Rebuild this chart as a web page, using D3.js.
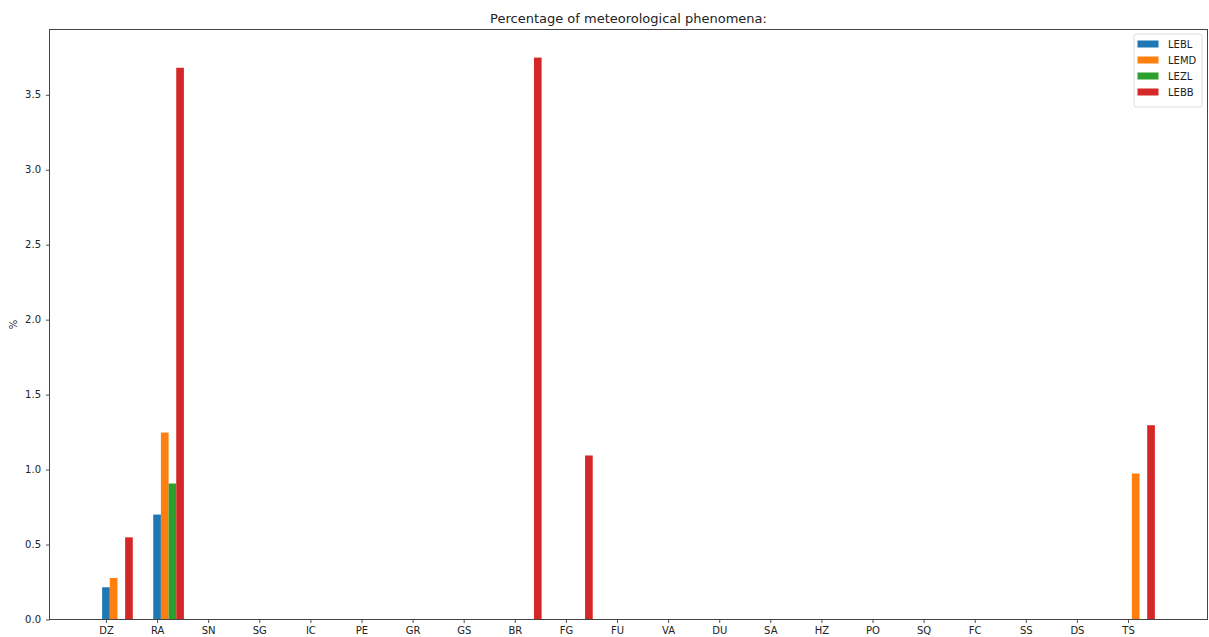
<!DOCTYPE html>
<html>
<head>
<meta charset="utf-8">
<script src="https://cdn.jsdelivr.net/npm/d3@7"></script>
<style>
  html, body { margin: 0; padding: 0; background: #fff; }
  svg { display: block; font-family: "DejaVu Sans", sans-serif; }
</style>
</head>
<body>
<svg id="chart" width="1209" height="637"></svg>
<script>
// Weather phenomenon codes along the x axis
const categories = ["DZ","RA","SN","SG","IC","PE","GR","GS","BR","FG","FU","VA","DU","SA","HZ","PO","SQ","FC","SS","DS","TS"];

// Station series (percentage of observations per phenomenon)
const stations = ["LEBL","LEMD","LEZL","LEBB"];
const lebl = [0.215,0.70,0,0,0,0,0,0,0,0,0,0,0,0,0,0,0,0,0,0,0];
const lemd = [0.277,1.247,0,0,0,0,0,0,0,0,0,0,0,0,0,0,0,0,0,0,0.974];
const lezl = [0,0.907,0,0,0,0,0,0,0,0,0,0,0,0,0,0,0,0,0,0,0];
const lebb = [0.548,3.68,0,0,0,0,0,0,3.748,1.094,0,0,0,0,0,0,0,0,0,0,1.296];
const seriesValues = [lebl, lemd, lezl, lebb];

const yTicks = [0.0,0.5,1.0,1.5,2.0,2.5,3.0,3.5];
const colors = ["#1f77b4","#ff7f0e","#2ca02c","#d62728"];

const svg = d3.select("#chart");
const plotLeft = 49.5, plotRight = 1207.5, plotTop = 29.5, plotBottom = 619.5;

// Bars of width w placed at index + i*w, centred on that position
const w = 0.15;
const xMin = -w / 2, xMax = (categories.length - 1) + (stations.length - 1) * w + w / 2;
const pad = (xMax - xMin) * 0.05;
const x = d3.scaleLinear().domain([xMin - pad, xMax + pad]).range([plotLeft, plotRight]);

const maxVal = d3.max(seriesValues.flat());
const y = d3.scaleLinear().domain([0, maxVal * 1.05]).range([plotBottom, plotTop]);

// Bars
seriesValues.forEach((vals, si) => {
  svg.append("g")
    .selectAll("rect")
    .data(vals.map((v, ci) => ({v, ci})).filter(d => d.v > 0))
    .join("rect")
    .attr("x", d => x(d.ci + si * w - w / 2))
    .attr("width", d => x(d.ci + si * w + w / 2) - x(d.ci + si * w - w / 2))
    .attr("y", d => y(d.v))
    .attr("height", d => y(0) - y(d.v))
    .attr("fill", colors[si]);
});

// Axes
const xAxis = d3.axisBottom(x)
  .tickValues(d3.range(categories.length))
  .tickFormat(i => categories[i])
  .tickSizeOuter(0).tickSize(3.5).tickPadding(4);
const gx = svg.append("g").attr("transform", `translate(0,${plotBottom})`).call(xAxis);
gx.select(".domain").remove();
gx.selectAll("text").attr("font-size", 10).attr("fill", "#222").attr("font-family", "DejaVu Sans");
gx.selectAll("line").attr("stroke", "#222").attr("stroke-width", 0.8);

const yAxis = d3.axisLeft(y)
  .tickValues(yTicks)
  .tickFormat(d3.format(".1f"))
  .tickSizeOuter(0).tickSize(3.5).tickPadding(5);
const gy = svg.append("g").attr("transform", `translate(${plotLeft},0)`).call(yAxis);
gy.select(".domain").remove();
gy.selectAll("text").attr("font-size", 10).attr("fill", "#222").attr("font-family", "DejaVu Sans");
gy.selectAll("line").attr("stroke", "#222").attr("stroke-width", 0.8);

// Frame
svg.append("rect")
  .attr("x", plotLeft).attr("y", plotTop)
  .attr("width", plotRight - plotLeft).attr("height", plotBottom - plotTop)
  .attr("fill", "none").attr("stroke", "#444").attr("stroke-width", 1);

// Title and y label
svg.append("text")
  .attr("x", (plotLeft + plotRight) / 2).attr("y", 23)
  .attr("text-anchor", "middle").attr("font-size", 13).attr("fill", "#222")
  .text("Percentage of meteorological phenomena:");

svg.append("text")
  .attr("transform", `translate(17,${(plotTop + plotBottom) / 2}) rotate(-90)`)
  .attr("text-anchor", "middle").attr("font-size", 10).attr("fill", "#222")
  .text("%");

// Legend
const lg = svg.append("g").attr("transform", "translate(1134,34)");
lg.append("rect")
  .attr("width", 68).attr("height", 73).attr("rx", 2)
  .attr("fill", "#fff").attr("fill-opacity", 0.8)
  .attr("stroke", "#ddd").attr("stroke-width", 1);
stations.forEach((s, i) => {
  const row = lg.append("g").attr("transform", `translate(0,${10 + i * 16})`);
  row.append("rect").attr("x", 3.5).attr("y", -3.5).attr("width", 21).attr("height", 7).attr("fill", colors[i]);
  row.append("text").attr("x", 34).attr("y", 3.5).attr("font-size", 10).attr("fill", "#222").text(s);
});
</script>
</body>
</html>
